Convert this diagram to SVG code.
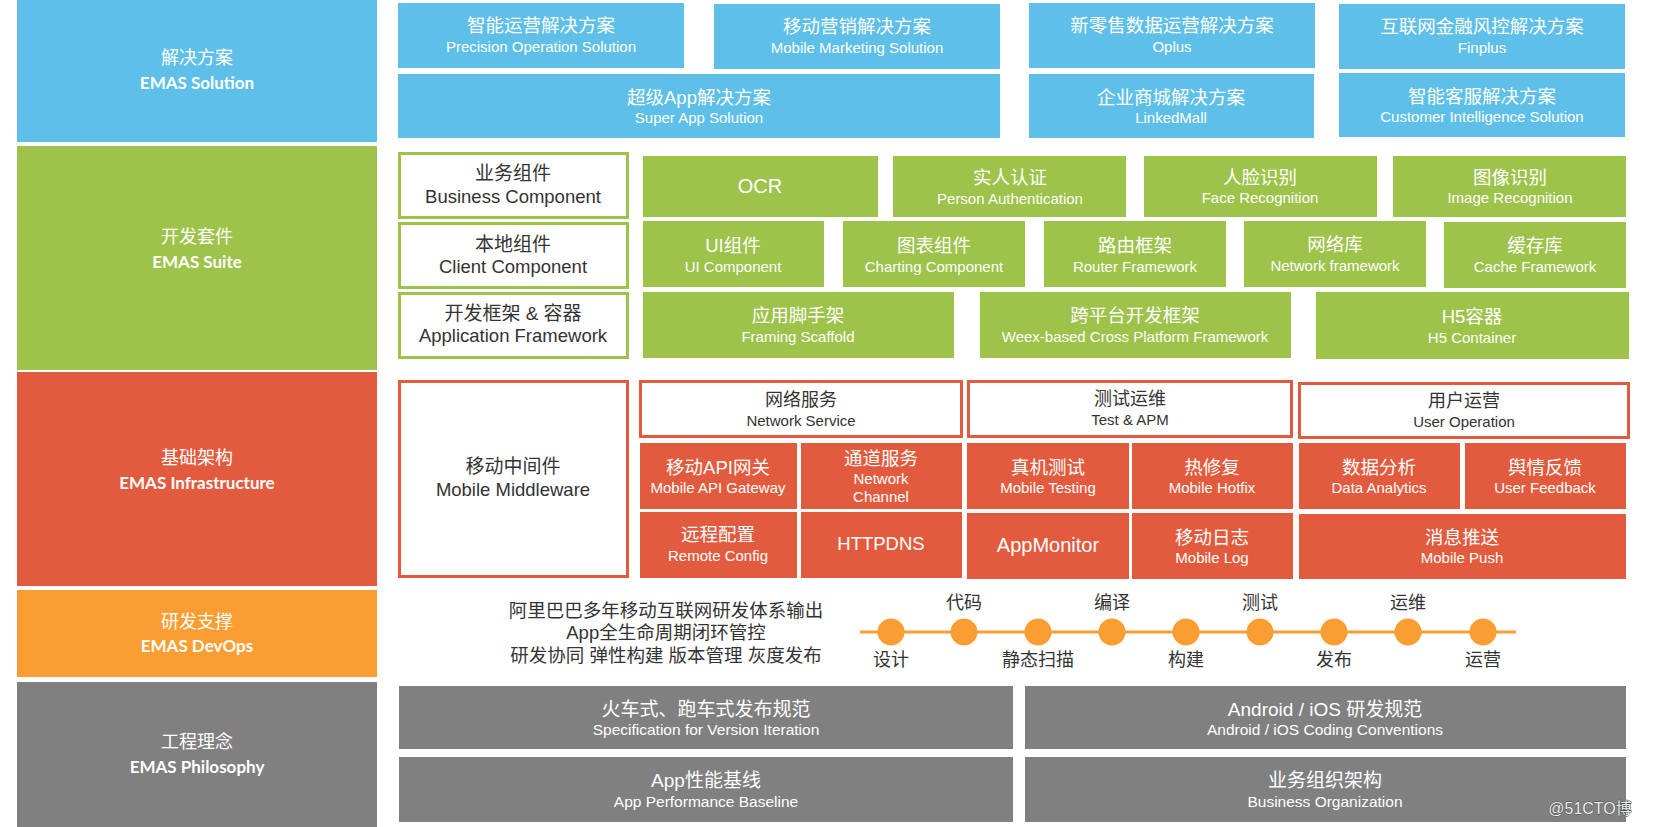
<svg xmlns="http://www.w3.org/2000/svg" width="1654" height="827" viewBox="0 0 1654 827">
<style>
text{font-family:"Liberation Sans","Noto Sans CJK SC",sans-serif;text-anchor:middle;dominant-baseline:central}
.w{fill:#fff}
.d{fill:#333}
.c{font-size:18.5px}
.e{font-size:15px}
.wc{font-size:19px;fill:#333}
.we{font-size:18.5px;fill:#333}
.hc{font-size:18px;fill:#333}
.he{font-size:15px;fill:#333}
.big{font-size:20px}
.lh{font-size:18px;fill:#fff}
.le{font-family:Lato,"Open Sans",sans-serif;font-weight:bold;font-size:17px;fill:#fff}
.pc{font-size:19px;fill:#fff}
.pe{font-size:15.5px;fill:#fff}
.blue{fill:#5EC0E8}
.green{fill:#9DC34B}
.red{fill:#E35B3E}
.orange{fill:#FA9D32}
.gray{fill:#808080}
.gb{fill:#fff;stroke:#9DC34B;stroke-width:3}
.rb{fill:#fff;stroke:#E35B3E;stroke-width:3}
.dv{font-size:18.5px;fill:#333}
.tl{font-size:18px;fill:#333}
</style>

<!-- Left layer column -->
<g id="layer-solution">
<rect class="blue" x="17" y="0" width="360" height="142"/>
<text class="lh" x="197" y="58">解决方案</text>
<text class="le" x="197" y="82">EMAS Solution</text>
</g>
<g id="layer-suite">
<rect class="green" x="17" y="146" width="360" height="224"/>
<text class="lh" x="197" y="237">开发套件</text>
<text class="le" x="197" y="261">EMAS Suite</text>
</g>
<g id="layer-infra">
<rect class="red" x="17" y="372" width="360" height="214"/>
<text class="lh" x="197" y="458">基础架构</text>
<text class="le" x="197" y="482">EMAS Infrastructure</text>
</g>
<g id="layer-devops">
<rect class="orange" x="17" y="590" width="360" height="87"/>
<text class="lh" x="197" y="622">研发支撑</text>
<text class="le" x="197" y="645">EMAS DevOps</text>
</g>
<g id="layer-philosophy">
<rect class="gray" x="17" y="682" width="360" height="145"/>
<text class="lh" x="197" y="742">工程理念</text>
<text class="le" x="197" y="766">EMAS Philosophy</text>
</g>

<!-- Solutions -->
<g id="sol-precision"><rect class="blue" x="398" y="3" width="286" height="65"/>
<text class="c w" x="541" y="25">智能运营解决方案</text><text class="e w" x="541" y="46">Precision Operation Solution</text></g>
<g id="sol-marketing"><rect class="blue" x="714" y="4" width="286" height="65"/>
<text class="c w" x="857" y="26">移动营销解决方案</text><text class="e w" x="857" y="47">Mobile Marketing Solution</text></g>
<g id="sol-oplus"><rect class="blue" x="1029" y="3" width="286" height="65"/>
<text class="c w" x="1172" y="25">新零售数据运营解决方案</text><text class="e w" x="1172" y="46">Oplus</text></g>
<g id="sol-finplus"><rect class="blue" x="1339" y="4" width="286" height="65"/>
<text class="c w" x="1482" y="26">互联网金融风控解决方案</text><text class="e w" x="1482" y="47">Finplus</text></g>
<g id="sol-superapp"><rect class="blue" x="398" y="74" width="602" height="64"/>
<text class="c w" x="699" y="97">超级App解决方案</text><text class="e w" x="699" y="117">Super App Solution</text></g>
<g id="sol-linkedmall"><rect class="blue" x="1029" y="74" width="285" height="64"/>
<text class="c w" x="1171" y="97">企业商城解决方案</text><text class="e w" x="1171" y="117">LinkedMall</text></g>
<g id="sol-customer"><rect class="blue" x="1339" y="73" width="286" height="64"/>
<text class="c w" x="1482" y="96">智能客服解决方案</text><text class="e w" x="1482" y="116">Customer Intelligence Solution</text></g>

<!-- Suite -->
<g id="suite-business"><rect class="gb" x="399.5" y="153.5" width="228" height="64"/>
<text class="wc" x="513" y="173">业务组件</text><text class="we" x="513" y="196">Business Component</text></g>
<g id="suite-client"><rect class="gb" x="399.5" y="223.5" width="228" height="64"/>
<text class="wc" x="513" y="244">本地组件</text><text class="we" x="513" y="266">Client Component</text></g>
<g id="suite-appframe"><rect class="gb" x="399.5" y="293.5" width="228" height="64"/>
<text class="wc" x="513" y="313">开发框架 &amp; 容器</text><text class="we" x="513" y="335">Application Framework</text></g>

<g id="suite-ocr"><rect class="green" x="643" y="156" width="235" height="61"/>
<text class="big w" x="760" y="186">OCR</text></g>
<g id="suite-person"><rect class="green" x="893" y="156" width="233" height="61"/>
<text class="c w" x="1010" y="177">实人认证</text><text class="e w" x="1010" y="198">Person Authentication</text></g>
<g id="suite-face"><rect class="green" x="1144" y="156" width="233" height="61"/>
<text class="c w" x="1260" y="177">人脸识别</text><text class="e w" x="1260" y="197">Face Recognition</text></g>
<g id="suite-image"><rect class="green" x="1393" y="156" width="233" height="61"/>
<text class="c w" x="1510" y="177">图像识别</text><text class="e w" x="1510" y="197">Image Recognition</text></g>

<g id="suite-ui"><rect class="green" x="643" y="221" width="181" height="66"/>
<text class="c w" x="733" y="245">UI组件</text><text class="e w" x="733" y="266">UI Component</text></g>
<g id="suite-chart"><rect class="green" x="843" y="221" width="182" height="66"/>
<text class="c w" x="934" y="245">图表组件</text><text class="e w" x="934" y="266">Charting Component</text></g>
<g id="suite-router"><rect class="green" x="1044" y="221" width="182" height="66"/>
<text class="c w" x="1135" y="245">路由框架</text><text class="e w" x="1135" y="266">Router Framework</text></g>
<g id="suite-network"><rect class="green" x="1244" y="221" width="182" height="66"/>
<text class="c w" x="1335" y="244">网络库</text><text class="e w" x="1335" y="265">Network framework</text></g>
<g id="suite-cache"><rect class="green" x="1444" y="222" width="182" height="66"/>
<text class="c w" x="1535" y="245">缓存库</text><text class="e w" x="1535" y="266">Cache Framework</text></g>

<g id="suite-scaffold"><rect class="green" x="643" y="292" width="311" height="66"/>
<text class="c w" x="798" y="315">应用脚手架</text><text class="e w" x="798" y="336">Framing Scaffold</text></g>
<g id="suite-weex"><rect class="green" x="980" y="292" width="311" height="66"/>
<text class="c w" x="1135" y="315">跨平台开发框架</text><text class="e w" x="1135" y="336">Weex-based Cross Platform Framework</text></g>
<g id="suite-h5"><rect class="green" x="1316" y="292" width="313" height="67"/>
<text class="c w" x="1472" y="316">H5容器</text><text class="e w" x="1472" y="337">H5 Container</text></g>

<!-- Infrastructure -->
<g id="infra-middleware"><rect class="rb" x="399.5" y="381.5" width="228" height="195"/>
<text class="wc" x="513" y="466">移动中间件</text><text class="we" x="513" y="489">Mobile Middleware</text></g>
<g id="infra-netservice"><rect class="rb" x="640.5" y="381.5" width="321" height="55"/>
<text class="hc" x="801" y="400">网络服务</text><text class="he" x="801" y="420">Network Service</text></g>
<g id="infra-testapm"><rect class="rb" x="968.5" y="381.5" width="323" height="55"/>
<text class="hc" x="1130" y="399">测试运维</text><text class="he" x="1130" y="419">Test &amp; APM</text></g>
<g id="infra-userop"><rect class="rb" x="1299.5" y="383.5" width="329" height="54"/>
<text class="hc" x="1464" y="401">用户运营</text><text class="he" x="1464" y="421">User Operation</text></g>

<g id="infra-apigw"><rect class="red" x="640" y="443" width="157" height="66"/>
<text class="c w" x="718" y="467">移动API网关</text><text class="e w" x="718" y="487">Mobile API Gateway</text></g>
<g id="infra-channel"><rect class="red" x="801" y="443" width="161" height="66"/>
<text class="c w" x="881" y="458">通道服务</text><text class="e w" x="881" y="478">Network</text><text class="e w" x="881" y="496">Channel</text></g>
<g id="infra-mtesting"><rect class="red" x="967" y="443" width="162" height="66"/>
<text class="c w" x="1048" y="467">真机测试</text><text class="e w" x="1048" y="487">Mobile Testing</text></g>
<g id="infra-hotfix"><rect class="red" x="1132" y="443" width="161" height="66"/>
<text class="c w" x="1212" y="467">热修复</text><text class="e w" x="1212" y="487">Mobile Hotfix</text></g>
<g id="infra-analytics"><rect class="red" x="1299" y="443" width="161" height="66"/>
<text class="c w" x="1379" y="467">数据分析</text><text class="e w" x="1379" y="487">Data Analytics</text></g>
<g id="infra-feedback"><rect class="red" x="1465" y="443" width="161" height="66"/>
<text class="c w" x="1545" y="467">舆情反馈</text><text class="e w" x="1545" y="487">User Feedback</text></g>

<g id="infra-remoteconfig"><rect class="red" x="640" y="512" width="157" height="66"/>
<text class="c w" x="718" y="534">远程配置</text><text class="e w" x="718" y="555">Remote Config</text></g>
<g id="infra-httpdns"><rect class="red" x="801" y="512" width="161" height="66"/>
<text class="w" style="font-size:18.5px" x="881" y="543">HTTPDNS</text></g>
<g id="infra-appmonitor"><rect class="red" x="967" y="513" width="162" height="66"/>
<text class="big w" x="1048" y="545">AppMonitor</text></g>
<g id="infra-log"><rect class="red" x="1132" y="513" width="161" height="66"/>
<text class="c w" x="1212" y="537">移动日志</text><text class="e w" x="1212" y="557">Mobile Log</text></g>
<g id="infra-push"><rect class="red" x="1299" y="514" width="327" height="65"/>
<text class="c w" x="1462" y="537">消息推送</text><text class="e w" x="1462" y="557">Mobile Push</text></g>

<!-- DevOps -->
<g id="devops-text">
<text class="dv" x="666" y="610">阿里巴巴多年移动互联网研发体系输出</text>
<text class="dv" x="666" y="632">App全生命周期闭环管控</text>
<text class="dv" x="666" y="655">研发协同 弹性构建 版本管理 灰度发布</text>
</g>
<g id="connectors">
<line x1="860" y1="632" x2="1516" y2="632" stroke="#FA9D32" stroke-width="3"/>
</g>
<g id="timeline-steps">
<circle class="orange" cx="891" cy="632" r="13.5"/>
<circle class="orange" cx="964" cy="632" r="13.5"/>
<circle class="orange" cx="1038" cy="632" r="13.5"/>
<circle class="orange" cx="1112" cy="632" r="13.5"/>
<circle class="orange" cx="1186" cy="632" r="13.5"/>
<circle class="orange" cx="1260" cy="632" r="13.5"/>
<circle class="orange" cx="1334" cy="632" r="13.5"/>
<circle class="orange" cx="1408" cy="632" r="13.5"/>
<circle class="orange" cx="1483" cy="632" r="13.5"/>
<text class="tl" x="891" y="660">设计</text>
<text class="tl" x="964" y="603">代码</text>
<text class="tl" x="1038" y="660">静态扫描</text>
<text class="tl" x="1112" y="603">编译</text>
<text class="tl" x="1186" y="660">构建</text>
<text class="tl" x="1260" y="603">测试</text>
<text class="tl" x="1334" y="660">发布</text>
<text class="tl" x="1408" y="603">运维</text>
<text class="tl" x="1483" y="660">运营</text>
</g>

<!-- Philosophy -->
<g id="phil-release"><rect class="gray" x="399" y="686" width="614" height="63"/>
<text class="pc" x="706" y="709">火车式、跑车式发布规范</text><text class="pe" x="706" y="729">Specification for Version Iteration</text></g>
<g id="phil-coding"><rect class="gray" x="1025" y="686" width="601" height="63"/>
<text class="pc" x="1325" y="709">Android / iOS 研发规范</text><text class="pe" x="1325" y="729">Android / iOS Coding Conventions</text></g>
<g id="phil-perf"><rect class="gray" x="399" y="757" width="614" height="65"/>
<text class="pc" x="706" y="780">App性能基线</text><text class="pe" x="706" y="801">App Performance Baseline</text></g>
<g id="phil-org"><rect class="gray" x="1025" y="757" width="601" height="65"/>
<text class="pc" x="1325" y="780">业务组织架构</text><text class="pe" x="1325" y="801">Business Organization</text></g>

<text x="1590" y="808" style="font-size:16px;fill:#eee;stroke:#444;stroke-width:0.8;paint-order:stroke">@51CTO博</text>
</svg>
